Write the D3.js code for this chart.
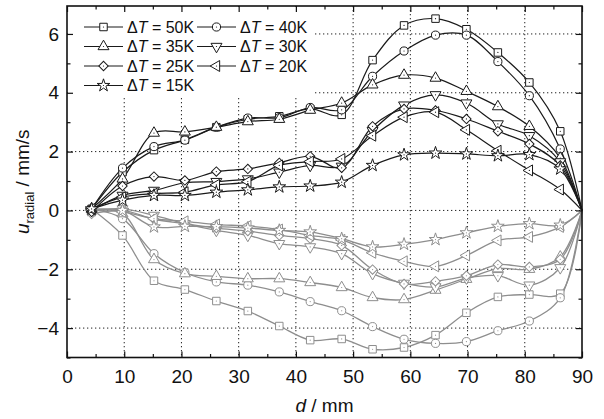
<!DOCTYPE html>
<html><head><meta charset="utf-8">
<script src="https://cdn.jsdelivr.net/npm/d3@7"></script>
<style>body{margin:0;background:#fff}svg{display:block;font-family:"Liberation Sans",Arial,sans-serif}</style>
</head><body><svg id="c" width="604" height="419"></svg>
<script>
const dVals = [4.3, 9.7, 15.2, 20.6, 26.1, 31.6, 37.1, 42.5, 48.0, 53.4, 58.9, 64.4, 69.8, 75.3, 80.8, 86.2, 90];
const labels = ["50K","40K","35K","30K","25K","20K","15K"];
const symbols = ["square","circle","triUp","triDown","diamond","triLeft","star"];
// positive (upper, black) series
const up50 = [0.05, 1.3, 2.05, 2.4, 2.83, 3.1, 3.2, 3.45, 3.25, 5.11, 6.29, 6.52, 6.16, 5.37, 4.35, 2.69, 0];
const up40 = [0.05, 1.44, 2.17, 2.39, 2.83, 3.14, 3.15, 3.5, 3.42, 4.56, 5.42, 5.96, 5.96, 5.06, 3.9, 2.09, 0];
const up35 = [0.05, 1.07, 2.63, 2.67, 2.83, 3.02, 3.1, 3.41, 3.65, 4.27, 4.6, 4.5, 4.05, 3.53, 2.86, 1.78, 0];
const up30 = [0.0, 0.51, 0.68, 0.94, 0.98, 1.07, 1.3, 1.53, 1.5, 2.71, 3.58, 3.93, 3.65, 2.94, 2.54, 1.65, 0];
const up25 = [-0.05, 0.83, 1.15, 1.02, 1.32, 1.41, 1.62, 1.84, 1.45, 2.86, 3.45, 3.4, 3.11, 2.69, 2.26, 1.53, 0];
const up20 = [0.05, 0.45, 0.57, 0.62, 0.87, 0.98, 1.53, 1.66, 1.75, 2.54, 3.17, 3.34, 2.74, 2.03, 1.36, 0.71, 0];
const up15 = [0.05, 0.35, 0.51, 0.51, 0.62, 0.7, 0.8, 0.83, 0.96, 1.53, 1.89, 1.95, 1.92, 1.86, 1.9, 1.41, 0];
// negative (lower, gray) series
const lo50 = [0.05, -0.85, -2.39, -2.69, -3.08, -3.42, -3.93, -4.41, -4.37, -4.72, -4.66, -4.24, -3.48, -2.94, -2.86, -2.83, 0];
const lo40 = [0.05, -0.28, -1.47, -2.11, -2.43, -2.54, -2.77, -3.1, -3.41, -3.95, -4.38, -4.52, -4.46, -4.09, -3.76, -2.97, 0];
const lo35 = [0.05, -0.11, -1.67, -2.15, -2.24, -2.32, -2.32, -2.45, -2.62, -2.96, -3.03, -2.71, -2.34, -1.98, -2.0, -1.58, 0];
const lo30 = [0.0, 0.05, -0.17, -0.45, -0.68, -0.85, -1.13, -1.24, -1.47, -2.15, -2.48, -2.6, -2.3, -2.22, -2.54, -1.95, 0];
const lo25 = [-0.12, 0.0, -0.3, -0.45, -0.6, -0.7, -0.85, -0.96, -1.19, -2.01, -2.5, -2.41, -2.22, -1.84, -1.92, -1.66, 0];
const lo20 = [0.0, -0.05, -0.28, -0.37, -0.48, -0.53, -0.65, -0.85, -1.0, -1.44, -1.73, -1.9, -1.53, -1.02, -0.9, -0.56, 0];
const lo15 = [0.0, 0.0, -0.56, -0.54, -0.55, -0.6, -0.68, -0.73, -0.96, -1.24, -1.15, -0.99, -0.76, -0.54, -0.45, -0.5, 0];
const upper = [up50, up40, up35, up30, up25, up20, up15];
const lower = [lo50, lo40, lo35, lo30, lo25, lo20, lo15];
const xTicks = [0,10,20,30,40,50,60,70,80,90];
const yTicks = [-4,-2,0,2,4,6];

const svg = d3.select("#c");
const L = 67, R = 582, T = 6, B = 357.5;
const x = d3.scaleLinear().domain([0, 90]).range([L, R]);
const y = d3.scaleLinear().domain([-5, 6.95]).range([B, T]);

// grid
const g = svg.append("g");
g.selectAll(".gx").data(xTicks.slice(1, -1)).join("line")
  .attr("x1", v => x(v)).attr("x2", v => x(v)).attr("y1", T).attr("y2", B)
  .attr("stroke", "#222").attr("stroke-width", 1).attr("stroke-dasharray", "1.3,2.7");
g.selectAll(".gy").data(yTicks).join("line")
  .attr("y1", v => y(v)).attr("y2", v => y(v)).attr("x1", L).attr("x2", R)
  .attr("stroke", "#222").attr("stroke-width", 1).attr("stroke-dasharray", "1.3,2.7");

function symPath(name) {
  const s = d3.symbol();
  if (name === "square") return {p: s.type(d3.symbolSquare).size(56)(), r: 0};
  if (name === "circle") return {p: s.type(d3.symbolCircle).size(52)(), r: 0};
  if (name === "triUp") return {p: s.type(d3.symbolTriangle).size(52)(), r: 0};
  if (name === "triDown") return {p: s.type(d3.symbolTriangle).size(52)(), r: 180};
  if (name === "triLeft") return {p: s.type(d3.symbolTriangle).size(52)(), r: -90};
  if (name === "diamond") return {p: s.type(d3.symbolSquare).size(44)(), r: 45};
  return {p: s.type(d3.symbolStar).size(50)(), r: 0};
}

const line = d3.line().x((v, i) => x(dVals[i])).y(v => y(v)).curve(d3.curveCatmullRom.alpha(0.5));

function drawSet(sets, color, width) {
  const grp = svg.append("g");
  sets.forEach((s, k) => {
    grp.append("path").attr("d", line(s)).attr("fill", "none")
      .attr("stroke", color).attr("stroke-width", width);
  });
  sets.forEach((s, k) => {
    const sp = symPath(symbols[k]);
    s.slice(0, -1).forEach((v, i) => {
      const tr = `translate(${x(dVals[i])},${y(v)}) rotate(${sp.r})`;
      grp.append("path").attr("d", sp.p).attr("transform", tr)
        .attr("fill", "#fff").attr("stroke", color).attr("stroke-width", 1);
      grp.append("circle").attr("cx", x(dVals[i])).attr("cy", y(v)).attr("r", 0.6).attr("fill", color);
    });
  });
}
drawSet(lower, "#8e8e8e", 1.3);
drawSet(upper, "#1a1a1a", 1.2);

// legend
const lg = svg.append("g");
lg.append("rect").attr("x", L + 1).attr("y", T + 1).attr("width", 245).attr("height", 91).attr("fill", "#fff");
const rows = [27, 46.5, 66, 85.5];
labels.forEach((lab, k) => {
  const col = k % 2, row = Math.floor(k / 2);
  const x0 = 84 + col * 113, yy = rows[row];
  lg.append("line").attr("x1", x0).attr("x2", x0 + 39).attr("y1", yy).attr("y2", yy)
    .attr("stroke", "#1a1a1a").attr("stroke-width", 1.2);
  const sp = symPath(symbols[k]);
  lg.append("path").attr("d", sp.p).attr("transform", `translate(${x0 + 19.5},${yy}) rotate(${sp.r})`)
    .attr("fill", "#fff").attr("stroke", "#1a1a1a").attr("stroke-width", 1);
  lg.append("circle").attr("cx", x0 + 19.5).attr("cy", yy).attr("r", 0.6).attr("fill", "#1a1a1a");
  const t = lg.append("text").attr("x", x0 + 43).attr("y", yy + 5.5).attr("font-size", 16).attr("fill", "#111");
  t.append("tspan").text("\u0394");
  t.append("tspan").attr("font-style", "italic").text("T");
  t.append("tspan").text(" = " + lab);
});

// frame + axes
const axB = d3.axisBottom(x).tickValues(xTicks).tickSize(-6).tickPadding(12).tickFormat(d3.format("d"));
const axL = d3.axisLeft(y).tickValues(yTicks).tickSize(-6).tickPadding(8).tickFormat(d3.format("d"));
const axBm = d3.axisBottom(x).tickValues(d3.range(5, 90, 10)).tickSize(-3.5).tickFormat("");
const axLm = d3.axisLeft(y).tickValues([-5,-3,-1,1,3,5]).tickSize(-3.5).tickFormat("");
const axT = d3.axisTop(x).tickValues(xTicks).tickSize(-6).tickFormat("");
const axTm = d3.axisTop(x).tickValues(d3.range(5, 90, 10)).tickSize(-3.5).tickFormat("");
const axR = d3.axisRight(y).tickValues(yTicks).tickSize(-6).tickFormat("");
const axRm = d3.axisRight(y).tickValues([-5,-3,-1,1,3,5]).tickSize(-3.5).tickFormat("");
function put(ax, tr) {
  const a = svg.append("g").attr("transform", tr).call(ax);
  a.select(".domain").remove();
  a.selectAll("line").attr("stroke", "#111").attr("stroke-width", 1.2);
  a.selectAll("text").attr("font-size", 19).attr("fill", "#111").attr("font-family", "Liberation Sans, Arial, sans-serif");
  return a;
}
put(axB, `translate(0,${B})`); put(axBm, `translate(0,${B})`);
put(axT, `translate(0,${T})`); put(axTm, `translate(0,${T})`);
put(axL, `translate(${L},0)`); put(axLm, `translate(${L},0)`);
put(axR, `translate(${R},0)`); put(axRm, `translate(${R},0)`);
svg.append("rect").attr("x", L).attr("y", T).attr("width", R - L).attr("height", B - T)
  .attr("fill", "none").attr("stroke", "#111").attr("stroke-width", 1.6);

// axis titles
const xt = svg.append("text").attr("x", (L + R) / 2).attr("y", 412).attr("text-anchor", "middle")
  .attr("font-size", 19).attr("fill", "#111");
xt.append("tspan").attr("font-style", "italic").text("d");
xt.append("tspan").text(" / mm");
const yt = svg.append("text").attr("transform", `translate(29,${(T + B) / 2}) rotate(-90)`)
  .attr("text-anchor", "middle").attr("font-size", 19).attr("fill", "#111");
yt.append("tspan").attr("font-style", "italic").text("u");
yt.append("tspan").attr("font-size", 13).attr("dy", 5).text("radial");
yt.append("tspan").attr("dy", -5).text(" / mm/s");
</script></body></html>
